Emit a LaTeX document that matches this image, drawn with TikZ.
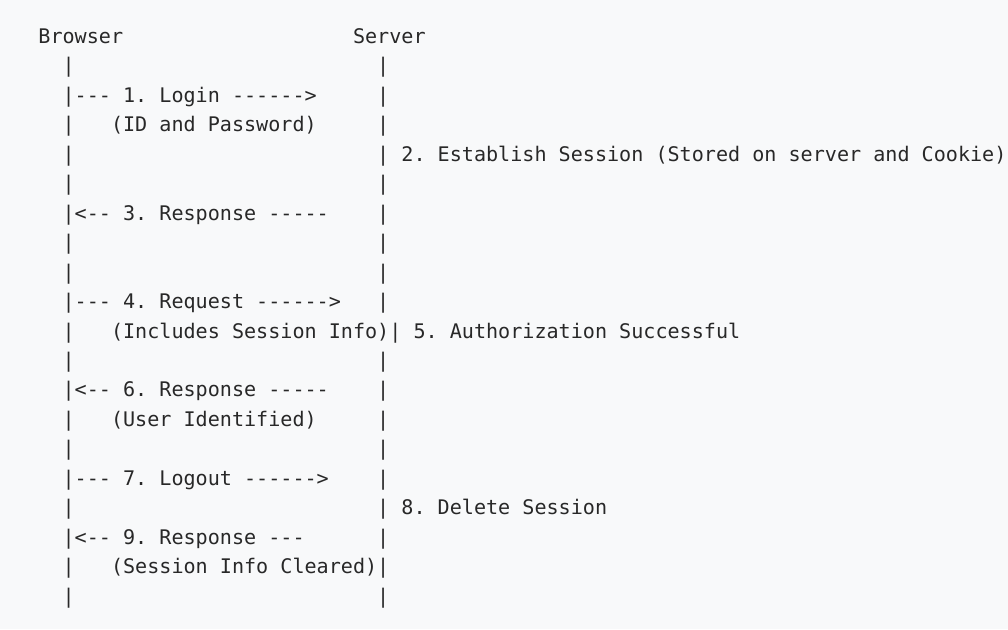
\documentclass[tikz,border=0pt]{standalone}
\usepackage{fontspec}
\setmonofont{DejaVu Sans Mono}
\definecolor{bg}{RGB}{248,249,250}
\definecolor{ink}{RGB}{40,40,40}
\newcommand\colx[1]{(14.2+12.1*(#1))}
\newcommand\rowy[1]{(43.5+29.45*((#1)-1))}
\begin{document}
\begin{tikzpicture}[x=1pt,y=-1pt,
  txt/.style={anchor=base west, inner sep=0pt, outer sep=0pt, text=ink,
    font=\ttfamily\fontsize{20.1}{24}\selectfont}]
\fill[bg] (0,0) rectangle (1008,629);
\useasboundingbox (0,0) rectangle (1008,629);
% headers
\node[txt] (browser) at ({\colx{2}},{\rowy{1}}) {Browser};
\node[txt] (server) at ({\colx{28}},{\rowy{1}}) {Server};
% lifeline bars
\foreach \r in {2,4,5,6,8,9,11,12,14,15,17,19,20}
  \node[txt] (lb\r) at ({\colx{4}},{\rowy{\r}}) {|};
\foreach \r in {2,3,4,6,7,8,9,10,12,13,14,15,16,18,20}
  \node[txt] (rb\r) at ({\colx{30}},{\rowy{\r}}) {|};
% messages
\node[txt] (m1) at ({\colx{4}},{\rowy{3}}) {|--- 1. Login ------>};
\node[txt] (m1n) at ({\colx{8}},{\rowy{4}}) {(ID and Password)};
\node[txt] (m2) at ({\colx{30}},{\rowy{5}}) {| 2. Establish Session (Stored on server and Cookie)};
\node[txt] (m3) at ({\colx{4}},{\rowy{7}}) {|<-- 3. Response -----};
\node[txt] (m4) at ({\colx{4}},{\rowy{10}}) {|--- 4. Request ------>};
\node[txt] (m4n) at ({\colx{8}},{\rowy{11}}) {(Includes Session Info)| 5. Authorization Successful};
\node[txt] (m6) at ({\colx{4}},{\rowy{13}}) {|<-- 6. Response -----};
\node[txt] (m6n) at ({\colx{8}},{\rowy{14}}) {(User Identified)};
\node[txt] (m7) at ({\colx{4}},{\rowy{16}}) {|--- 7. Logout ------>};
\node[txt] (m8) at ({\colx{30}},{\rowy{17}}) {| 8. Delete Session};
\node[txt] (m9) at ({\colx{4}},{\rowy{18}}) {|<-- 9. Response ---};
\node[txt] (m9n) at ({\colx{8}},{\rowy{19}}) {(Session Info Cleared)|};
\end{tikzpicture}
\end{document}
